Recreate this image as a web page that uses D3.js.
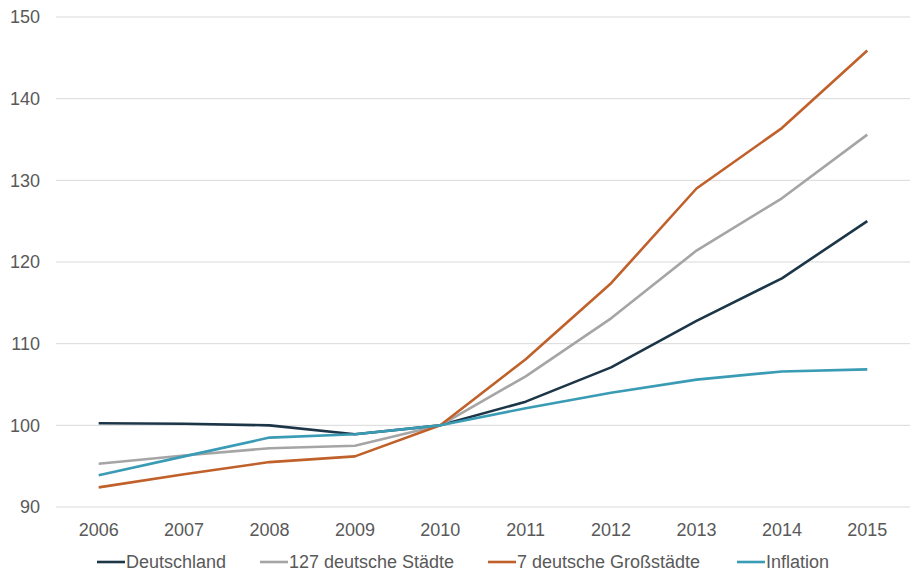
<!DOCTYPE html>
<html><head><meta charset="utf-8">
<script src="https://cdn.jsdelivr.net/npm/d3@7"></script>
<style>body{margin:0;background:#fff;}svg{display:block;font-family:"Liberation Sans",Arial,sans-serif;}</style>
</head><body>
<svg id="c" width="923" height="585"></svg>
<script>
const years = ["2006","2007","2008","2009","2010","2011","2012","2013","2014","2015"];
const yTicks = [90,100,110,120,130,140,150];
const seriesNames = ["Deutschland","127 deutsche Städte","7 deutsche Großstädte","Inflation"];
const deutschland = [100.25,100.2,100.0,98.9,100,102.9,107.1,112.8,118.0,125.0];
const staedte127 = [95.3,96.3,97.2,97.5,100,106.0,113.1,121.4,127.8,135.6];
const grossstaedte7 = [92.4,94.0,95.5,96.2,100,108.1,117.4,129.0,136.4,145.9];
const inflation = [93.9,96.2,98.5,98.9,100,102.1,104.0,105.6,106.6,106.85];
const colors = ["#1c3648","#a5a5a5","#c0602a","#3a9bb5"];

const svg = d3.select("#c");
const pL=56, pR=910, pT=17, pB=507;
const x = d3.scalePoint().domain(years).range([pL,pR]).padding(0.5);
const y = d3.scaleLinear().domain([90,150]).range([pB,pT]);

svg.append("g").selectAll("line").data(yTicks).join("line")
  .attr("x1",pL).attr("x2",pR)
  .attr("y1",d=>y(d)).attr("y2",d=>y(d))
  .attr("stroke","#d9d9d9").attr("stroke-width",1);

svg.append("g").selectAll("text").data(yTicks).join("text")
  .attr("x",40).attr("y",d=>y(d)).attr("dy","0.35em")
  .attr("text-anchor","end").attr("font-size",18).attr("fill","#595959")
  .text(d=>d);

svg.append("g").selectAll("text").data(years).join("text")
  .attr("x",d=>x(d)).attr("y",530).attr("dy","0.35em")
  .attr("text-anchor","middle").attr("font-size",18).attr("fill","#595959")
  .text(d=>d);

const data = [deutschland, staedte127, grossstaedte7, inflation];
const line = d3.line().x((d,i)=>x(years[i])).y(d=>y(d));
data.forEach((s,k)=>{
  svg.append("path").datum(s).attr("d",line)
    .attr("fill","none").attr("stroke",colors[k]).attr("stroke-width",2.6)
    .attr("stroke-linejoin","round");
});

const legX = [97,260,488,737];
const lg = svg.append("g");
seriesNames.forEach((n,i)=>{
  lg.append("line").attr("x1",legX[i]).attr("x2",legX[i]+28)
    .attr("y1",562).attr("y2",562).attr("stroke",colors[i]).attr("stroke-width",2.6);
  lg.append("text").attr("x",legX[i]+29).attr("y",562).attr("dy","0.35em")
    .attr("font-size",18).attr("fill","#595959").text(n);
});
</script>
</body></html>
